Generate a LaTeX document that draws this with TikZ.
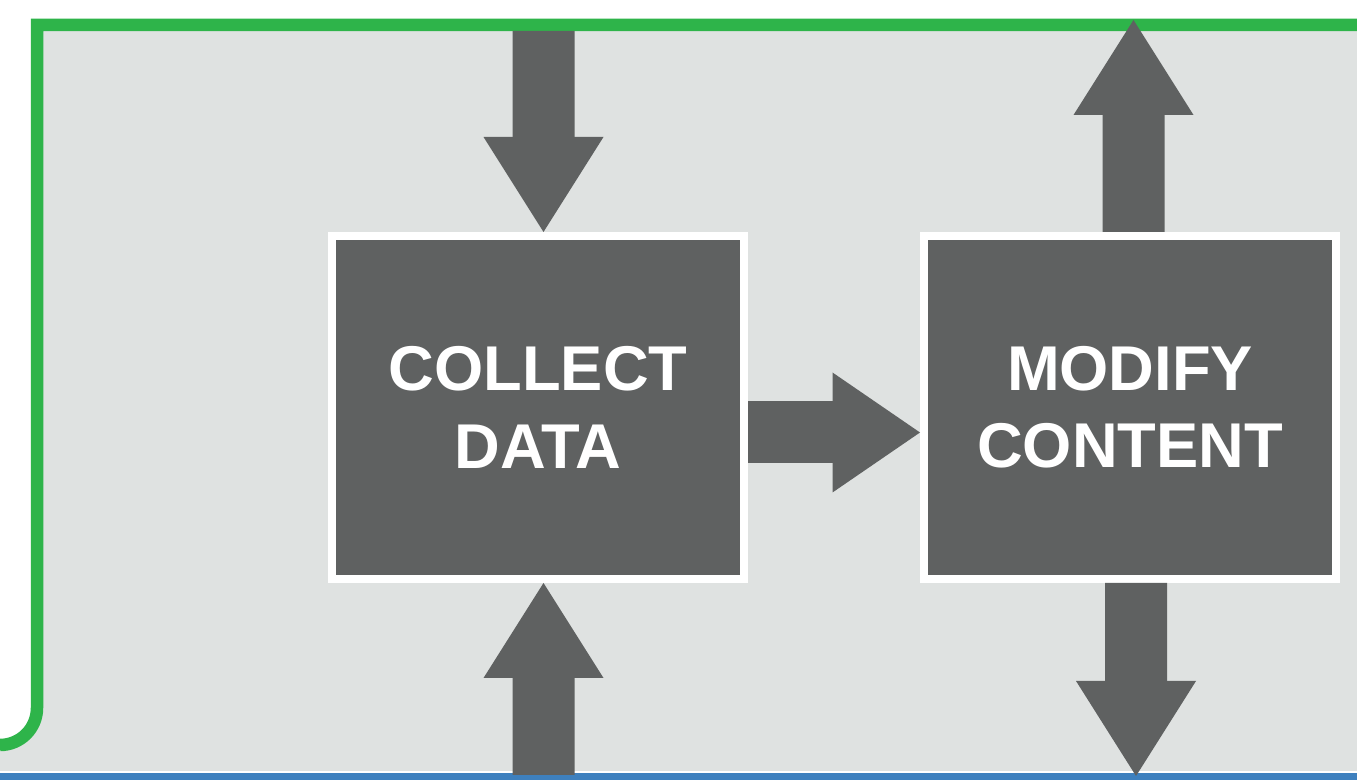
\documentclass[tikz,border=0pt]{standalone}
\usepackage{fontspec}
\setmainfont{Liberation Sans}
\usetikzlibrary{arrows.meta}
\definecolor{panelgray}{RGB}{223,226,225}
\definecolor{boxgray}{RGB}{95,97,97}
\definecolor{framegreen}{RGB}{46,180,74}
\definecolor{baseblue}{RGB}{62,128,190}
\tikzset{
  stepbox/.style={draw=white, fill=boxgray, line width=0.16cm,
    minimum width=8.24cm, minimum height=6.86cm, align=center,
    text=white, font=\fontsize{36}{44}\selectfont\bfseries},
  blockarrow/.style={draw=boxgray, line width=1.24cm,
    -{Triangle[width=2.4cm,length=1.9cm,line width=0pt]}},
}
\begin{document}
\begin{tikzpicture}
  \useasboundingbox (0,0) rectangle (27.14,15.6);
  \fill[white] (0,0) rectangle (27.14,15.6);
  \fill[panelgray] (0,0.17) rectangle (27.14,15.1);
  \fill[baseblue] (0,0) rectangle (27.14,0.13);
  \fill[white] (0,15.6) -- (0.74,15.6) -- (0.74,1.44) arc[start angle=0,end angle=-90,radius=0.74] -- cycle;
  \draw[framegreen, line width=0.25cm] (27.14,15.1) -- (0.74,15.1) -- (0.74,1.44) arc[start angle=0,end angle=-90,radius=0.74];
  \node[stepbox] (collect) at (10.76,7.45) {COLLECT\\DATA};
  \node[stepbox] (modify) at (22.6,7.45) {MODIFY\\CONTENT};
  \coordinate (top1) at (10.87,14.98);
  \coordinate (bot1) at (10.87,0.1);
  \coordinate (top2) at (22.67,15.2);
  \coordinate (bot2) at (22.72,0.08);
  \draw [blockarrow] (top1) -- ([xshift=0.11cm]collect.north);
  \draw [blockarrow] (bot1) -- ([xshift=0.11cm]collect.south);
  \draw [blockarrow, -{Triangle[width=2.4cm,length=1.75cm,line width=0pt]}] ([yshift=-0.5cm]collect.east) -- ([yshift=-0.5cm]modify.west);
  \draw [blockarrow] ([xshift=0.07cm]modify.north) -- (top2);
  \draw [blockarrow] ([xshift=0.12cm]modify.south) -- (bot2);
\end{tikzpicture}
\end{document}
